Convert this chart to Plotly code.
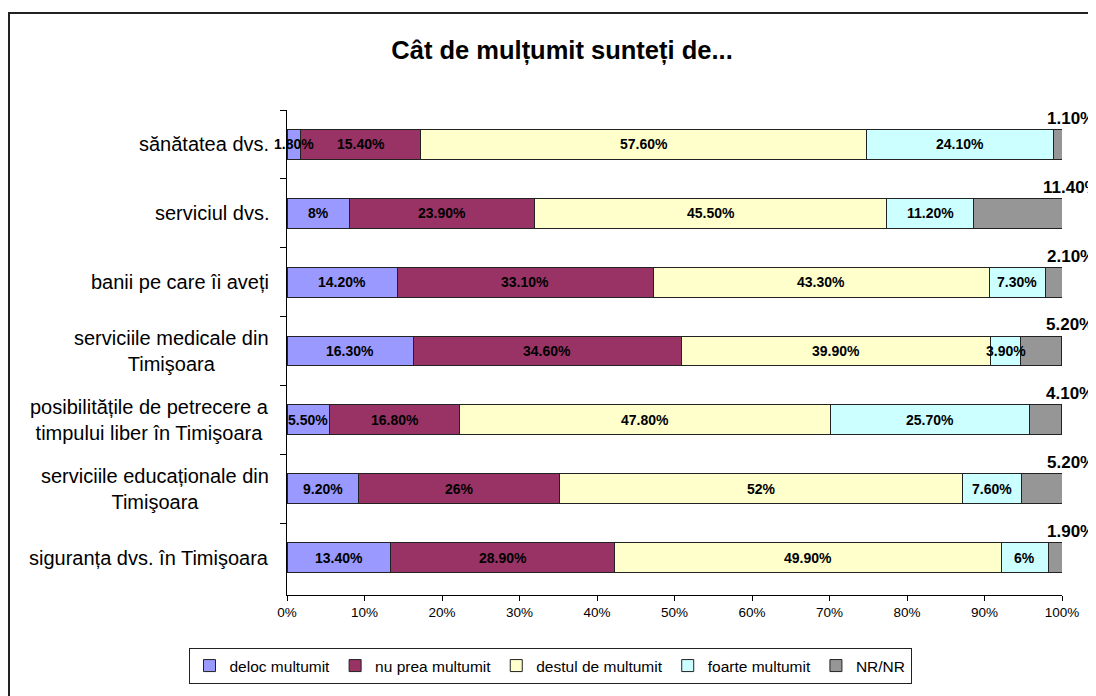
import plotly.graph_objects as go

categories = [
    "sănătatea dvs.",
    "serviciul dvs.",
    "banii pe care îi aveți",
    "serviciile medicale din<br>Timişoara",
    "posibilitățile de petrecere a<br>timpului liber în Timişoara",
    "serviciile educaționale din<br>Timişoara",
    "siguranța dvs. în Timişoara",
]
series_names = ["deloc multumit", "nu prea multumit", "destul de multumit", "foarte multumit", "NR/NR"]
deloc = [1.8, 8, 14.2, 16.3, 5.5, 9.2, 13.4]
nu_prea = [15.4, 23.9, 33.1, 34.6, 16.8, 26, 28.9]
destul = [57.6, 45.5, 43.3, 39.9, 47.8, 52, 49.9]
foarte = [24.1, 11.2, 7.3, 3.9, 25.7, 7.6, 6]
nr = [1.1, 11.4, 2.1, 5.2, 4.1, 5.2, 1.9]
colors = ["#9999FF", "#993366", "#FFFFCC", "#CCFFFF", "#969696"]
x_ticks = list(range(0, 101, 10))

FONT = "Liberation Sans, Arial, sans-serif"

# The page body has an 8px margin, so the figure is 8px smaller than the window
W, H = 1088, 688
L, R, T, B = 279, 34, 102, 101
PW, PH = W - L - R, H - T - B


def fmt(v):
    return f"{int(v)}%" if float(v).is_integer() else f"{v:.2f}%"


fig = go.Figure()
all_series = [deloc, nu_prea, destul, foarte, nr]
for name, vals, col in zip(series_names, all_series, colors):
    fig.add_trace(go.Bar(
        name=name,
        y=categories,
        x=vals,
        orientation="h",
        marker=dict(color=col, line=dict(color="#222222", width=1)),
        hoverinfo="skip",
    ))

# Segment labels, drawn on top of all bars (centered on each segment)
for ci, cat in enumerate(categories):
    start = 0.0
    for si, vals in enumerate(all_series):
        v = vals[ci]
        if si < len(all_series) - 1:
            fig.add_annotation(
                x=round(start + v / 2, 6), y=cat, xref="x", yref="y",
                text=f"<b>{fmt(v)}</b>", showarrow=False,
                xanchor="center", yanchor="middle",
                font=dict(family=FONT, size=14, color="black"),
            )
        else:
            # NR labels above the right end of each bar
            fig.add_annotation(
                x=min(round(start + v, 6), 100), y=cat, xref="x", yref="y",
                text=f"<b>{fmt(v)}</b>", showarrow=False,
                xanchor="center", yanchor="middle",
                xshift=9, yshift=26,
                font=dict(family=FONT, size=17, color="black"),
            )
        start += v

# Category labels (centered multi-line, right-aligned block)
for cat in categories:
    fig.add_annotation(
        x=0, y=cat, xref="paper", yref="y", text=cat,
        showarrow=False, xanchor="right", yanchor="middle", align="center",
        xshift=-16,
        font=dict(family=FONT, size=20, color="black"),
    )

fig.update_layout(
    barmode="stack",
    bargap=0.567,
    width=W,
    height=H,
    margin=dict(l=L, r=R, t=T, b=B),
    paper_bgcolor="white",
    plot_bgcolor="white",
    title=dict(
        text="<b>Cât de mulțumit sunteți de...</b>",
        x=554 / W, xanchor="center", xref="container",
        y=1 - 42 / H, yanchor="middle", yref="container",
        font=dict(family=FONT, size=25.5, color="black"),
    ),
    legend=dict(
        orientation="h",
        x=542 / W, xanchor="center", xref="container",
        y=1 - 640 / H, yanchor="top", yref="container",
        bordercolor="#222222", borderwidth=1,
        font=dict(family=FONT, size=15.5, color="black"),
        itemwidth=30,
        tracegroupgap=0,
        traceorder="normal",
    ),
    xaxis=dict(
        range=[0, 100],
        tickvals=x_ticks,
        ticktext=[f"{t}%" for t in x_ticks],
        showline=True, linecolor="black", linewidth=1,
        ticks="outside", ticklen=5, tickcolor="black",
        showgrid=False, zeroline=False,
        tickfont=dict(family=FONT, size=13.5, color="black"),
        fixedrange=True,
    ),
    yaxis=dict(
        categoryorder="array",
        categoryarray=categories,
        autorange="reversed",
        showline=True, linecolor="black", linewidth=1,
        ticks="outside", ticklen=6, tickcolor="black",
        tickson="boundaries",
        showticklabels=False,
        showgrid=False, zeroline=False,
        fixedrange=True,
    ),
    shapes=[dict(
        type="rect", xref="paper", yref="paper",
        x0=(1 - L) / PW, x1=1.2, y0=-0.4, y1=1 + (T - 5) / PH,
        line=dict(color="#222222", width=2), fillcolor="rgba(0,0,0,0)",
        layer="below",
    )],
    showlegend=True,
)

fig.write_html("out.html")
